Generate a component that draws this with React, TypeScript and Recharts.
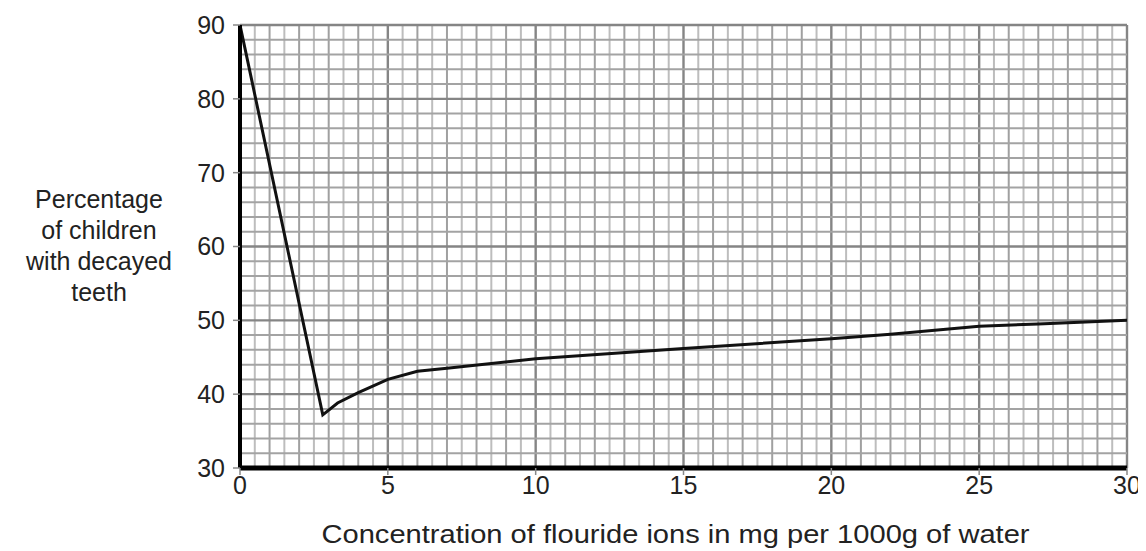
import React from 'react';
import { LineChart, Line, XAxis, YAxis, ReferenceLine, Label } from 'recharts';

const concentration = [0, 2.8, 3.3, 4, 5, 6, 7, 10, 15, 20, 22, 25, 27, 30];
const percentDecayed = [90, 37.2, 38.8, 40.2, 42, 43.1, 43.5, 44.8, 46.2, 47.5, 48.1, 49.2, 49.5, 50];
const xTicks = [0, 5, 10, 15, 20, 25, 30];
const yTicks = [30, 40, 50, 60, 70, 80, 90];
const xMinor = Array.from({ length: 61 }, (_, i) => i * 0.5);
const yMinor = Array.from({ length: 31 }, (_, i) => 30 + i * 2);
const yLabelLines = ['Percentage', 'of children', 'with decayed', 'teeth'];
const xLabel = 'Concentration of flouride ions in mg per 1000g of water';

const data = concentration.map((x, i) => ({ x, y: percentDecayed[i] }));

const FONT = 'Liberation Sans, Arial, sans-serif';

const YLabel = (props: any) => {
  const vb = props.viewBox || {};
  const cx = 91;
  const top = (vb.y || 0) + 183;
  return (
    <text x={cx} y={top} textAnchor="middle" fontSize={25} fill="#222" fontFamily={FONT}>
      {yLabelLines.map((l, i) => (
        <tspan key={i} x={cx} dy={i === 0 ? 0 : 31}>{l}</tspan>
      ))}
    </text>
  );
};

const XLabel = (props: any) => {
  const vb = props.viewBox || {};
  return (
    <text
      x={(vb.x || 0) + (vb.width || 0) / 2 - 8}
      y={(vb.y || 0) + 75}
      textAnchor="middle"
      fontSize={25.5}
      textLength={708}
      lengthAdjust="spacingAndGlyphs"
      fill="#222"
      fontFamily={FONT}
    >
      {xLabel}
    </text>
  );
};

export default function App() {
  return (
    <div style={{ width: 1138, height: 543, background: '#fff' }}>
      <LineChart width={1138} height={543} data={data} margin={{ top: 17, right: 19, left: 172, bottom: 3 }}>
        {xMinor.map((v) => (
          <ReferenceLine key={'vx' + v} x={v} stroke={v % 5 === 0 ? '#858585' : (v % 1 === 0 ? '#a0a0a0' : '#bdbdbd')} strokeWidth={v % 5 === 0 ? 2.4 : 2} />
        ))}
        {yMinor.map((v) => (
          <ReferenceLine key={'hy' + v} y={v} stroke={v % 10 === 0 ? '#858585' : '#a3a3a3'} strokeWidth={v % 10 === 0 ? 2.4 : 2} />
        ))}
        <XAxis
          dataKey="x"
          type="number"
          domain={[0, 30]}
          ticks={xTicks}
          height={80}
          tick={{ fontSize: 25, fill: '#222', fontFamily: FONT }}
          tickLine={{ stroke: '#888', strokeWidth: 1.5 }}
          tickSize={7}
          tickMargin={1}
          axisLine={{ stroke: '#000', strokeWidth: 5 }}
          allowDataOverflow
        >
          <Label content={<XLabel />} />
        </XAxis>
        <YAxis
          dataKey="y"
          type="number"
          domain={[30, 90]}
          ticks={yTicks}
          width={60}
          tick={{ fontSize: 25, fill: '#222', fontFamily: FONT }}
          tickLine={{ stroke: '#888', strokeWidth: 1.5 }}
          tickSize={7}
          tickMargin={8}
          axisLine={{ stroke: '#000', strokeWidth: 4 }}
          allowDataOverflow
        >
          <Label content={<YLabel />} />
        </YAxis>
        <Line
          type="linear"
          dataKey="y"
          stroke="#111"
          strokeWidth={3}
          dot={false}
          isAnimationActive={false}
        />
      </LineChart>
    </div>
  );
}
